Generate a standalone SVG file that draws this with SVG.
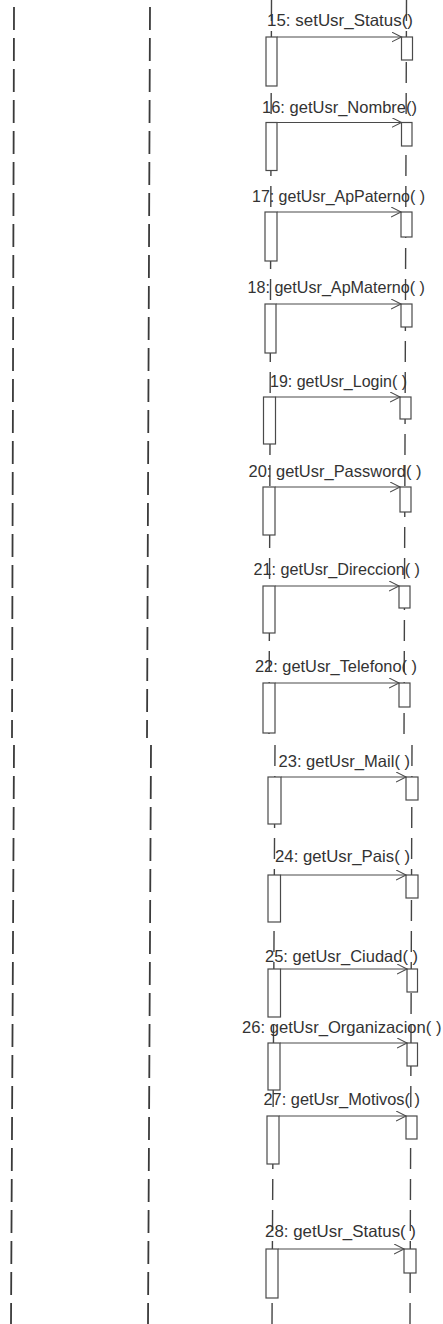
<svg xmlns="http://www.w3.org/2000/svg" width="443" height="1324" viewBox="0 0 443 1324">
<style>
.ll{stroke:#3a3a3a;stroke-width:1.8;stroke-dasharray:23 8;fill:none}
.ll2{stroke:#444;stroke-width:1.4;stroke-dasharray:21 10;fill:none}
.act{fill:#fff;stroke:#4a4a4a;stroke-width:1.2}
.msg{stroke:#4a4a4a;stroke-width:1.1;fill:none;marker-end:url(#open)}
.lbl{font-family:"Liberation Sans",Arial,sans-serif;font-size:16.5px;fill:#333}
</style>
<defs>
<marker id="open" markerUnits="userSpaceOnUse" markerWidth="12" markerHeight="12" refX="10" refY="5" orient="auto">
<path d="M0,0 L10,5 L0,10" fill="none" stroke="#4a4a4a" stroke-width="1.1"/>
</marker>
</defs>
<rect width="443" height="1324" fill="#fff"/>
<g id="lifeline-1">
<line class="ll" x1="14" y1="7" x2="12" y2="738"/>
<line class="ll" x1="14" y1="745" x2="11" y2="1324"/>
</g>
<g id="lifeline-2">
<line class="ll" x1="150" y1="7" x2="147" y2="738"/>
<line class="ll" x1="151" y1="745" x2="148" y2="1324"/>
</g>
<g id="lifeline-3">
<line class="ll2" x1="271.5" y1="0" x2="269" y2="738"/>
<line class="ll2" x1="275" y1="745" x2="272" y2="1324"/>
</g>
<g id="lifeline-4">
<line class="ll2" x1="406.5" y1="0" x2="404" y2="738"/>
<line class="ll2" x1="412" y1="745" x2="410" y2="1324"/>
</g>
<g id="activations-caller">
<rect class="act" x="266" y="37" width="11" height="49"/>
<rect class="act" x="266" y="122.5" width="11" height="48"/>
<rect class="act" x="265" y="212" width="12" height="49"/>
<rect class="act" x="265" y="304" width="11" height="49"/>
<rect class="act" x="263.5" y="397" width="12" height="47"/>
<rect class="act" x="263" y="487" width="12" height="48"/>
<rect class="act" x="263" y="586" width="12" height="47"/>
<rect class="act" x="263" y="683" width="12" height="50"/>
<rect class="act" x="268" y="777" width="13" height="47"/>
<rect class="act" x="268" y="875" width="12.5" height="47"/>
<rect class="act" x="268" y="969" width="12.5" height="48"/>
<rect class="act" x="268" y="1043" width="12" height="47"/>
<rect class="act" x="267" y="1116" width="12" height="48"/>
<rect class="act" x="266" y="1249" width="12" height="49"/>
</g>
<g id="activations-callee">
<rect class="act" x="401.5" y="37" width="11" height="23"/>
<rect class="act" x="401.5" y="122.5" width="10.5" height="23.5"/>
<rect class="act" x="401" y="212" width="11" height="25"/>
<rect class="act" x="401" y="304" width="11" height="23"/>
<rect class="act" x="400" y="397" width="11" height="22"/>
<rect class="act" x="400" y="487" width="11" height="25"/>
<rect class="act" x="399" y="586" width="11" height="22"/>
<rect class="act" x="399" y="683" width="11" height="24"/>
<rect class="act" x="406" y="777" width="12" height="23"/>
<rect class="act" x="406" y="875" width="12" height="23"/>
<rect class="act" x="407" y="969" width="10.5" height="23"/>
<rect class="act" x="407" y="1043" width="10.5" height="23"/>
<rect class="act" x="406" y="1116" width="11" height="23"/>
<rect class="act" x="404" y="1249" width="12" height="24"/>
</g>
<g id="connectors">
<line class="msg" x1="277" y1="37" x2="401.5" y2="37"/>
<line class="msg" x1="277" y1="122.5" x2="401.5" y2="122.5"/>
<line class="msg" x1="277" y1="212" x2="401" y2="212"/>
<line class="msg" x1="276" y1="304" x2="401" y2="304"/>
<line class="msg" x1="275.5" y1="397" x2="400" y2="397"/>
<line class="msg" x1="275" y1="487" x2="400" y2="487"/>
<line class="msg" x1="275" y1="586" x2="399" y2="586"/>
<line class="msg" x1="275" y1="683" x2="399" y2="683"/>
<line class="msg" x1="281" y1="777" x2="406" y2="777"/>
<line class="msg" x1="280.5" y1="875" x2="406" y2="875"/>
<line class="msg" x1="280.5" y1="969" x2="407" y2="969"/>
<line class="msg" x1="280" y1="1043" x2="407" y2="1043"/>
<line class="msg" x1="279" y1="1116" x2="406" y2="1116"/>
<line class="msg" x1="278" y1="1249" x2="404" y2="1249"/>
</g>
<g id="labels">
<text class="lbl" x="267" y="26" textLength="146" lengthAdjust="spacingAndGlyphs">15: setUsr_Status()</text>
<text class="lbl" x="262" y="112.5" textLength="155" lengthAdjust="spacingAndGlyphs">16: getUsr_Nombre()</text>
<text class="lbl" x="252" y="202" textLength="173" lengthAdjust="spacingAndGlyphs">17: getUsr_ApPaterno( )</text>
<text class="lbl" x="247.5" y="293" textLength="177.5" lengthAdjust="spacingAndGlyphs">18: getUsr_ApMaterno( )</text>
<text class="lbl" x="270" y="387" textLength="137" lengthAdjust="spacingAndGlyphs">19: getUsr_Login( )</text>
<text class="lbl" x="248.5" y="477" textLength="173" lengthAdjust="spacingAndGlyphs">20: getUsr_Password( )</text>
<text class="lbl" x="253.5" y="575" textLength="166.5" lengthAdjust="spacingAndGlyphs">21: getUsr_Direccion( )</text>
<text class="lbl" x="255" y="672" textLength="162" lengthAdjust="spacingAndGlyphs">22: getUsr_Telefono( )</text>
<text class="lbl" x="278.5" y="767" textLength="131.5" lengthAdjust="spacingAndGlyphs">23: getUsr_Mail( )</text>
<text class="lbl" x="275" y="862" textLength="135" lengthAdjust="spacingAndGlyphs">24: getUsr_Pais( )</text>
<text class="lbl" x="265" y="962" textLength="153" lengthAdjust="spacingAndGlyphs">25: getUsr_Ciudad( )</text>
<text class="lbl" x="242" y="1033" textLength="199.5" lengthAdjust="spacingAndGlyphs">26: getUsr_Organizacion( )</text>
<text class="lbl" x="263.5" y="1105" textLength="156.5" lengthAdjust="spacingAndGlyphs">27: getUsr_Motivos( )</text>
<text class="lbl" x="265" y="1237" textLength="151" lengthAdjust="spacingAndGlyphs">28: getUsr_Status( )</text>
</g>
</svg>
